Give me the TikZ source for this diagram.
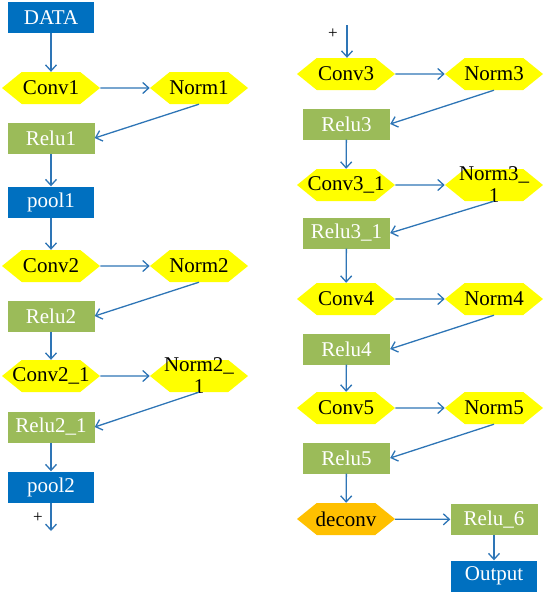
\documentclass[tikz,border=0pt]{standalone}
\usepackage{fontspec}
\setmainfont{Liberation Serif}
\usetikzlibrary{shapes.misc,shapes.symbols,arrows.meta}
\definecolor{boxblue}{HTML}{0070C0}
\definecolor{boxgreen}{HTML}{9BBB59}
\definecolor{hexyellow}{HTML}{FFFF00}
\definecolor{hexorange}{HTML}{FFC000}
\definecolor{arrowblue}{HTML}{2E75B6}
\newcommand\hx[1]{\makebox[0pt]{#1}}
\newcommand\twol[2]{\makebox[0pt]{\raisebox{-7pt}[0pt][0pt]{\begin{tabular}[c]{@{}c@{}}#1\\#2\end{tabular}}}}
\tikzset{
  every node/.style={font=\fontsize{21}{22}\selectfont},
  bluebox/.style={rectangle, fill=boxblue, text=white, minimum width=86pt, minimum height=31pt, inner sep=0pt},
  greenbox/.style={rectangle, fill=boxgreen, text=white, minimum width=87pt, minimum height=31pt, inner sep=0pt},
  hexbox/.style={shape=signal, signal to=west and east, signal pointer angle=78, fill=hexyellow, text=black, minimum width=98pt, minimum height=32pt, inner sep=0pt},
  orangehex/.style={hexbox, fill=hexorange},
  conn/.style={draw=arrowblue, line width=1.3pt, -{Straight Barb[length=6pt,width=11pt]}},
  plus/.style={text=black, font=\fontsize{17}{17}\selectfont, inner sep=0pt}
}
\begin{document}
\begin{tikzpicture}[x=1pt,y=-1pt]
\useasboundingbox (0,0) rectangle (545,597);
% left column
\node[bluebox] (data) at (51,17.5) {DATA};
\node[hexbox] (conv1) at (51,88) {\hx{Conv1}};
\node[hexbox] (norm1) at (199,88) {\hx{Norm1}};
\node[greenbox] (relu1) at (51,138) {Relu1};
\node[bluebox] (pool1) at (51,202) {pool1};
\node[hexbox] (conv2) at (51,266) {\hx{Conv2}};
\node[hexbox] (norm2) at (199,266) {\hx{Norm2}};
\node[greenbox] (relu2) at (51,316) {Relu2};
\node[hexbox] (conv21) at (51,376) {\hx{Conv2\_1}};
\node[hexbox] (norm21) at (199,376) {\twol{Norm2\_}{1}};
\node[greenbox] (relu21) at (51,427) {Relu2\_1};
\node[bluebox] (pool2) at (51,487) {pool2};
\coordinate (outL) at (51,531);
\node[plus] (plusL) at (38,518) {+};
% right column
\coordinate (inR) at (347,25);
\node[plus] (plusR) at (333,34) {+};
\node[hexbox] (conv3) at (346,74) {\hx{Conv3}};
\node[hexbox] (norm3) at (494,74) {\hx{Norm3}};
\node[greenbox] (relu3) at (346.5,124) {Relu3};
\node[hexbox] (conv31) at (346,185) {\hx{Conv3\_1}};
\node[hexbox] (norm31) at (494,185) {\twol{Norm3\_}{1}};
\node[greenbox] (relu31) at (346.5,233) {Relu3\_1};
\node[hexbox] (conv4) at (346,299) {\hx{Conv4}};
\node[hexbox] (norm4) at (494,299) {\hx{Norm4}};
\node[greenbox] (relu4) at (346.5,349) {Relu4};
\node[hexbox] (conv5) at (346,408) {\hx{Conv5}};
\node[hexbox] (norm5) at (494,408) {\hx{Norm5}};
\node[greenbox] (relu5) at (346.5,458) {Relu5};
\node[orangehex] (deconv) at (346,519) {\hx{deconv}};
\node[greenbox] (relu6) at (494,519.5) {Relu\_6};
\node[bluebox] (output) at (494,576) {Output};
% connectors left
\draw[conn] (data) -- (conv1);
\draw[conn] (conv1) -- (norm1);
\draw[conn] (norm1.south) -- (relu1.east);
\draw[conn] (relu1) -- (pool1);
\draw[conn] (pool1) -- (conv2);
\draw[conn] (conv2) -- (norm2);
\draw[conn] (norm2.south) -- (relu2.east);
\draw[conn] (relu2) -- (conv21);
\draw[conn] (conv21) -- (norm21);
\draw[conn] (norm21.south) -- (relu21.east);
\draw[conn] (relu21) -- (pool2);
\draw[conn] (pool2) -- (outL);
% connectors right
\draw[conn] (inR) -- (conv3.north -| inR);
\draw[conn] (conv3) -- (norm3);
\draw[conn] (norm3.south) -- (relu3.east);
\draw[conn] (relu3) -- (conv31);
\draw[conn] (conv31) -- (norm31);
\draw[conn] (norm31.south) -- (relu31.east);
\draw[conn] (relu31) -- (conv4);
\draw[conn] (conv4) -- (norm4);
\draw[conn] (norm4.south) -- (relu4.east);
\draw[conn] (relu4) -- (conv5);
\draw[conn] (conv5) -- (norm5);
\draw[conn] (norm5.south) -- (relu5.east);
\draw[conn] (relu5) -- (deconv);
\draw[conn] (deconv) -- (relu6);
\draw[conn] (relu6) -- (output);
\end{tikzpicture}
\end{document}
